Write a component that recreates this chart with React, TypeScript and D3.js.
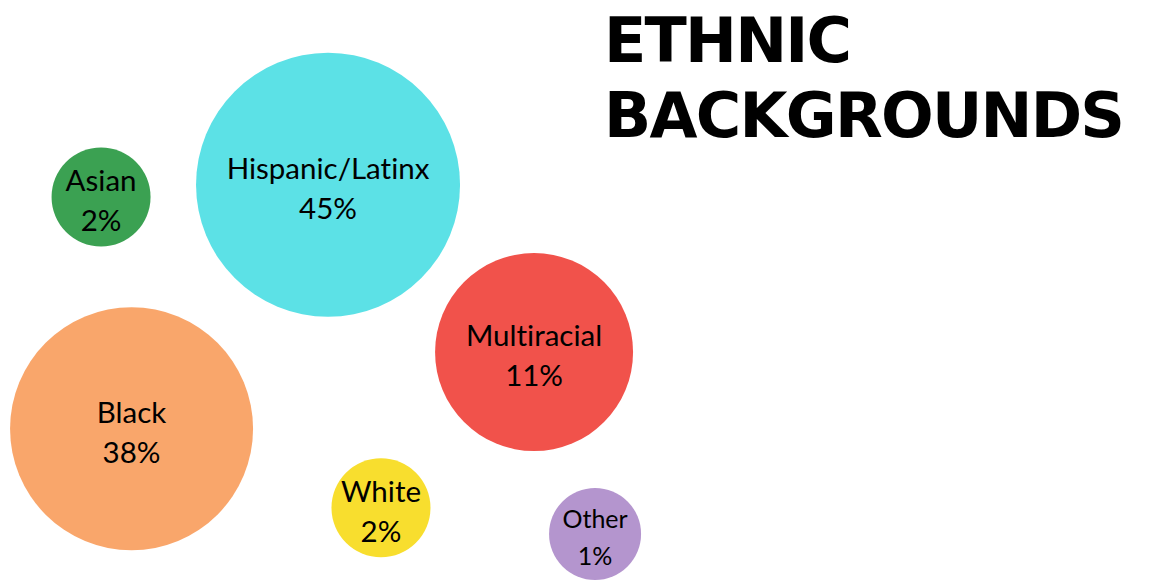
import React from "react";
import * as d3 from "d3";

const categories = ["Hispanic/Latinx", "Asian", "Black", "Multiracial", "White", "Other"];
const percents = [45, 2, 38, 11, 2, 1];
const colors = ["#5CE1E6", "#3BA152", "#F9A66B", "#F1524B", "#F8DE2E", "#B495CE"];
const titleLines = ["ETHNIC", "BACKGROUNDS"];

// bubble layout (centre positions in layout units 0..1 of the canvas)
const layoutX = [0.285, 0.0878, 0.1143, 0.464, 0.331, 0.517];
const layoutY = [0.318, 0.339, 0.738, 0.606, 0.874, 0.919];

const W = 1151;
const H = 581;

export default function App() {
  const x = d3.scaleLinear().domain([0, 1]).range([0, W]);
  const y = d3.scaleLinear().domain([0, 1]).range([0, H]);
  const r = d3.scaleLinear().domain([1, 2, 11, 38, 45]).range([46, 49.5, 99, 121.5, 132]);
  const nodes = categories.map((c, i) => ({
    name: c,
    value: percents[i],
    color: colors[i],
    cx: x(layoutX[i]),
    cy: y(layoutY[i]),
    r: r(percents[i]),
  }));
  const fmt = (v: number) => `${v}%`;
  const labelStyle = { fontVariantLigatures: "none" as const };
  return (
    <svg
      width={W}
      height={H}
      style={{ position: "absolute", left: 0, top: 0, background: "#fff" }}
    >
      {nodes.map((n) => {
        const fs = n.value < 2 ? 25 : 29.5;
        const gap = n.value < 2 ? 37 : 40;
        return (
          <g key={n.name}>
            <circle cx={n.cx} cy={n.cy} r={n.r} fill={n.color} />
            <text
              x={n.cx}
              y={n.cy - 6}
              textAnchor="middle"
              fontFamily="Lato, 'Open Sans', sans-serif"
              fontWeight={400}
              fontSize={fs}
              fill="#000"
              style={labelStyle}
            >
              {n.name}
            </text>
            <text
              x={n.cx}
              y={n.cy - 6 + gap}
              textAnchor="middle"
              fontFamily="Lato, 'Open Sans', sans-serif"
              fontWeight={400}
              fontSize={fs}
              fill="#000"
              style={labelStyle}
            >
              {fmt(n.value)}
            </text>
          </g>
        );
      })}
      <text
        x={604}
        y={62}
        fontFamily="'DejaVu Sans', sans-serif"
        fontWeight="bold"
        fontSize={62}
        textLength={248}
        lengthAdjust="spacing"
        fill="#000"
      >
        {titleLines[0]}
      </text>
      <text
        x={604}
        y={137}
        fontFamily="'DejaVu Sans', sans-serif"
        fontWeight="bold"
        fontSize={62}
        textLength={521}
        lengthAdjust="spacing"
        fill="#000"
      >
        {titleLines[1]}
      </text>
    </svg>
  );
}
